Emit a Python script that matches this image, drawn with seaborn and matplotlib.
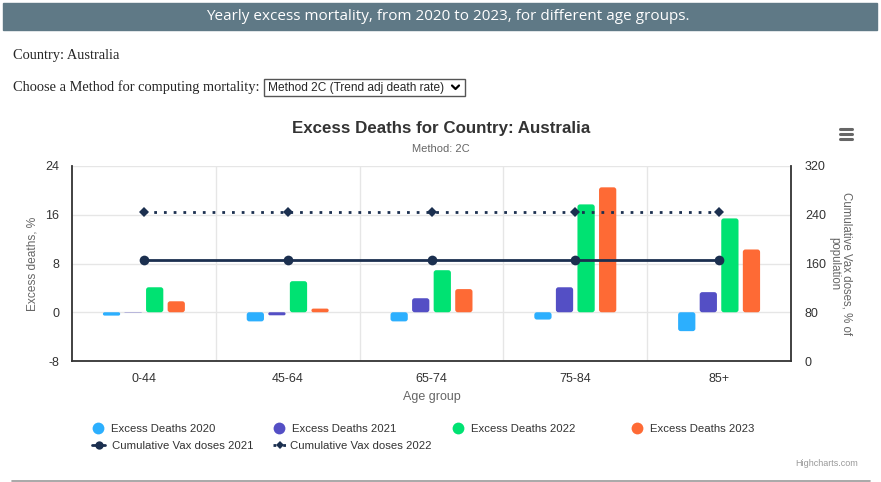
# excess mortality chart for Australia, method 2C
import numpy as np
import pandas as pd
import matplotlib
matplotlib.use('Agg')
import matplotlib.pyplot as plt
import seaborn as sns
from matplotlib.lines import Line2D
from matplotlib.patches import Rectangle, FancyBboxPatch

# data
age_groups = ['0-44', '45-64', '65-74', '75-84', '85+']
excess_2020 = [-0.55, -1.5, -1.5, -1.2, -3.1]
excess_2021 = [-0.05, -0.5, 2.3, 4.1, 3.3]
excess_2022 = [4.1, 5.1, 6.9, 17.7, 15.4]
excess_2023 = [1.8, 0.6, 3.8, 20.5, 10.3]
vax_2021 = [165, 165, 165, 165, 165]
vax_2022 = [245, 245, 245, 245, 245]
years = ['Excess Deaths 2020', 'Excess Deaths 2021', 'Excess Deaths 2022', 'Excess Deaths 2023']
left_ticks = [-8, 0, 8, 16, 24]
right_ticks = [0, 80, 160, 240, 320]

colors = ['#2caffe', '#544fc5', '#00e272', '#fe6a35']
navy = '#1b2f4f'

# long table for seaborn
df = pd.DataFrame({
    'age': age_groups * 4,
    'value': excess_2020 + excess_2021 + excess_2022 + excess_2023,
    'series': np.repeat(years, len(age_groups)),
})

sns.set_style('white')
plt.rcParams['font.family'] = ['Liberation Sans', 'DejaVu Sans']
plt.rcParams['axes.unicode_minus'] = False

fig = plt.figure(figsize=(8.81, 4.82), dpi=100)
W, H = 881, 482

def fx(px):
    return px / W

def fy(py):
    return 1 - py / H

# page header band
fig.patches.append(Rectangle((fx(3), fy(30)), fx(874), 27 / H, transform=fig.transFigure,
                             color='#5f7986', zorder=0))
fig.text(fx(448), fy(17), 'Yearly excess mortality, from 2020 to 2023, for different age groups.',
         ha='center', va='center', color='white', fontsize=10.95, family='Open Sans')
fig.text(fx(13), fy(56), 'Country: Australia', ha='left', va='center', fontsize=10.4,
         family='Liberation Serif')
fig.text(fx(13), fy(87), 'Choose a Method for computing mortality:', ha='left', va='center',
         fontsize=10.4, family='Liberation Serif')
fig.patches.append(Rectangle((fx(264), fy(96)), fx(201), 17 / H, transform=fig.transFigure,
                             fill=False, edgecolor='#555555', lw=1))
fig.text(fx(268), fy(87.5), 'Method 2C (Trend adj death rate)', ha='left', va='center',
         fontsize=8.6, family='Liberation Sans')
fig.lines.append(Line2D([fx(452), fx(455.5), fx(459)], [fy(85.5), fy(89), fy(85.5)],
                        transform=fig.transFigure, color='black', lw=1.6))

# chart titles
fig.text(fx(441), fy(128), 'Excess Deaths for Country: Australia', ha='center', va='center',
         fontsize=12.2, fontweight='bold', color='#333333')
fig.text(fx(441), fy(149), 'Method: 2C', ha='center', va='center', fontsize=8, color='#666666')
for yy in [129, 134, 139]:
    fig.lines.append(Line2D([fx(840), fx(852)], [fy(yy), fy(yy)], transform=fig.transFigure,
                            color='#666666', lw=2.2, solid_capstyle='round'))

# main axes
ax = fig.add_axes([fx(72), fy(361), fx(719), 195 / H])
sns.barplot(data=df, x='age', y='value', hue='series', palette=colors, width=0.6, gap=0.2,
            saturation=1, ax=ax, legend=False, zorder=3)
ax.set_ylim(-8, 24)
ax.set_yticks(left_ticks)
ax.set_xlim(-0.5, len(age_groups) - 0.5)

# round the bar corners a little, as highcharts does
aspect = (32 / 195) / (5 / 719)
for p in list(ax.patches):
    x0, y0 = p.get_x(), p.get_y()
    w, h = p.get_width(), p.get_height()
    if h < 0:
        y0, h = y0 + h, -h
    r = min(0.018, w / 2, h / aspect / 2)
    rb = FancyBboxPatch((x0, y0), w, h, boxstyle=f'round,pad=0,rounding_size={r}',
                        mutation_aspect=aspect, facecolor=p.get_facecolor(),
                        edgecolor='none', zorder=3)
    p.remove()
    ax.add_patch(rb)

ax.set_xlabel('Age group', fontsize=9, color='#666666', labelpad=4)
ax.set_ylabel('Excess deaths, %', fontsize=8.6, color='#666666', labelpad=5)
ax.tick_params(axis='both', labelsize=9, colors='#333333', length=0, pad=9)
ax.grid(axis='y', color='#e6e6e6', lw=1, zorder=0)
for b in np.arange(0.5, len(age_groups) - 0.5, 1):
    ax.axvline(b, color='#e6e6e6', lw=1, zorder=0)
ax.spines['top'].set_visible(False)
for s in ['left', 'bottom', 'right']:
    ax.spines[s].set_color('#333333')
    ax.spines[s].set_linewidth(1.3)

# secondary axis for vaccine doses
ax2 = ax.twinx()
x_pos = np.arange(len(age_groups))
sns.lineplot(x=x_pos, y=vax_2021, ax=ax2, color=navy, lw=2, marker='o', markersize=7,
             markeredgewidth=0, zorder=4)
sns.lineplot(x=x_pos, y=vax_2022, ax=ax2, color=navy, lw=2, linestyle=(0, (1, 2.5)),
             marker='D', markersize=5, markeredgewidth=0, zorder=4)
ax2.set_ylim(0, 320)
ax2.set_yticks(right_ticks)
ax2.tick_params(axis='y', labelsize=9, colors='#333333', length=0, pad=10)
ax2.set_ylabel('Cumulative Vax doses, % of\npopulation', fontsize=8.3, color='#666666',
               rotation=-90, labelpad=19, linespacing=1.05)
for s in ax2.spines.values():
    s.set_visible(False)
ax2.grid(False)

# legend drawn item by item like the highcharts one
leg_text = '#333333'
row1_x = [98, 279, 458, 637]
for xm, c, lab in zip(row1_x, colors, years):
    fig.lines.append(Line2D([fx(xm)], [fy(428)], transform=fig.transFigure, marker='o',
                            color='none', markerfacecolor=c, markeredgewidth=0, markersize=8.5))
    fig.text(fx(xm + 13), fy(428), lab, ha='left', va='center_baseline', fontsize=8.2,
             color=leg_text)
fig.lines.append(Line2D([fx(92), fx(105)], [fy(445), fy(445)], transform=fig.transFigure,
                        color=navy, lw=2))
fig.lines.append(Line2D([fx(98.5)], [fy(445)], transform=fig.transFigure, color=navy,
                        marker='o', markersize=6, markeredgewidth=0))
fig.text(fx(112), fy(445), 'Cumulative Vax doses 2021', ha='left', va='center_baseline',
         fontsize=8.2, color=leg_text)
fig.lines.append(Line2D([fx(273), fx(286)], [fy(445), fy(445)], transform=fig.transFigure,
                        color=navy, lw=2, linestyle=(0, (1, 2.5))))
fig.lines.append(Line2D([fx(279.5)], [fy(445)], transform=fig.transFigure, color=navy,
                        marker='D', markersize=4.5, markeredgewidth=0))
fig.text(fx(290), fy(445), 'Cumulative Vax doses 2022', ha='left', va='center_baseline',
         fontsize=8.2, color=leg_text)

fig.text(fx(858), fy(464), 'Highcharts.com', ha='right', va='center', fontsize=6.5, color='#999999')
fig.lines.append(Line2D([fx(12), fx(870)], [fy(480.5), fy(480.5)], transform=fig.transFigure,
                        color='#999999', lw=1.2))

fig.savefig('out.png', dpi=100)
